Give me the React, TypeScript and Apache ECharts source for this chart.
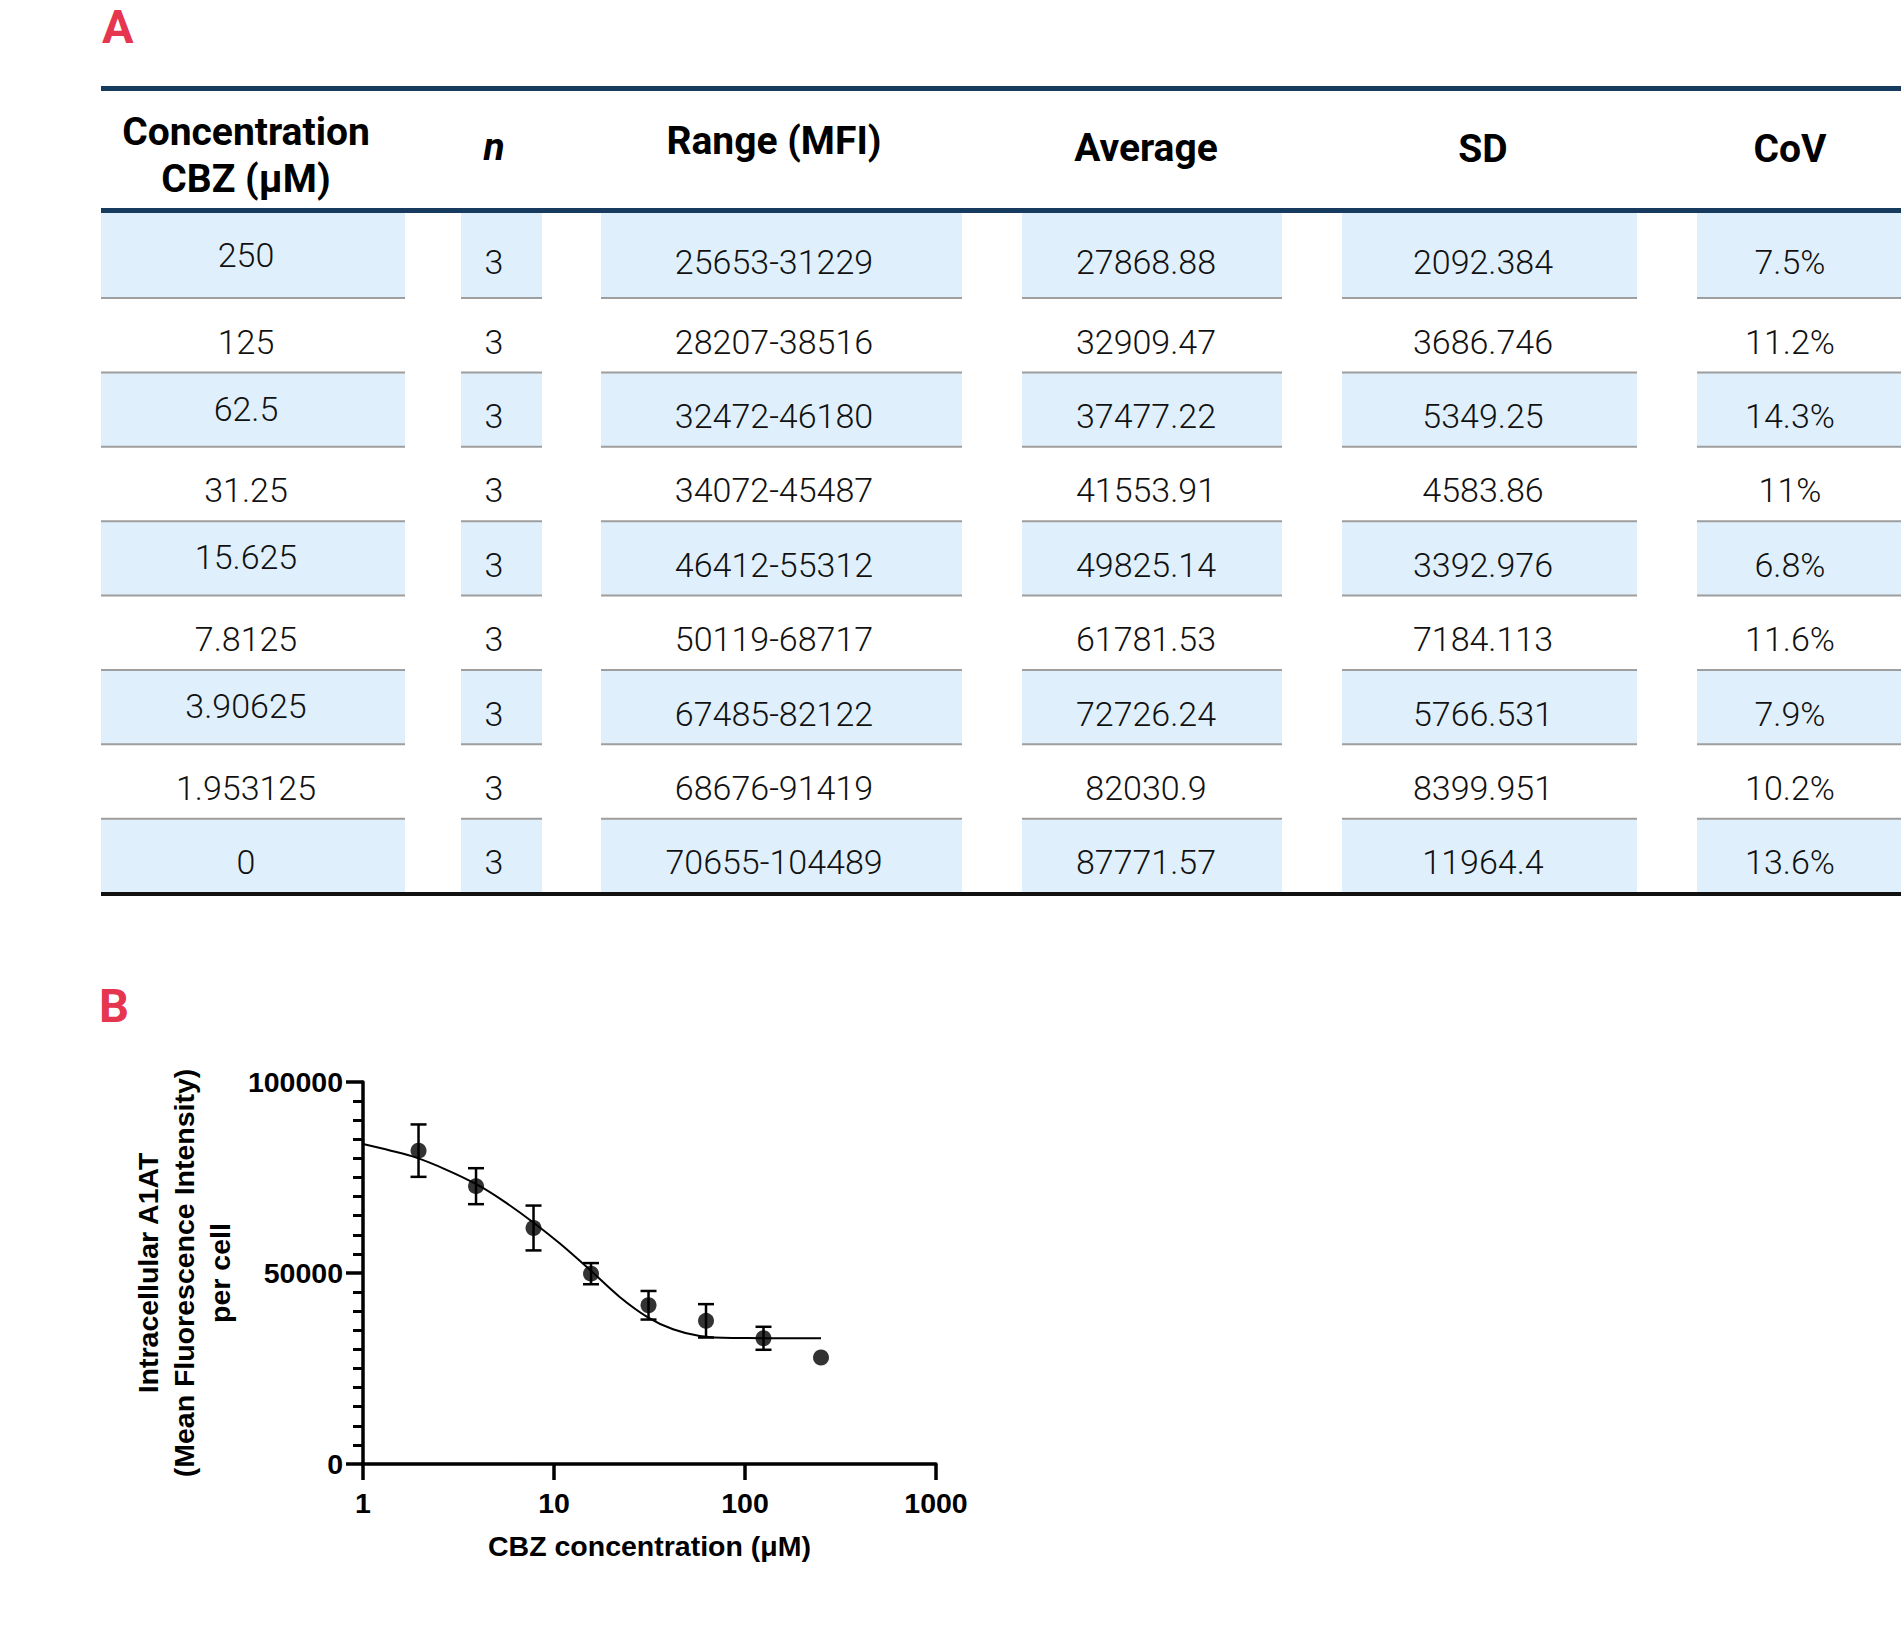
import React, { useEffect, useRef } from "react";
import * as echarts from "echarts";

// ---------- Table data (panel A) ----------
const concLabels = ["250", "125", "62.5", "31.25", "15.625", "7.8125", "3.90625", "1.953125", "0"];
const nCounts = [3, 3, 3, 3, 3, 3, 3, 3, 3];
const ranges = ["25653-31229", "28207-38516", "32472-46180", "34072-45487", "46412-55312", "50119-68717", "67485-82122", "68676-91419", "70655-104489"];
const averages = ["27868.88", "32909.47", "37477.22", "41553.91", "49825.14", "61781.53", "72726.24", "82030.9", "87771.57"];
const sds = ["2092.384", "3686.746", "5349.25", "4583.86", "3392.976", "7184.113", "5766.531", "8399.951", "11964.4"];
const covs = ["7.5%", "11.2%", "14.3%", "11%", "6.8%", "11.6%", "7.9%", "10.2%", "13.6%"];
const headerLines = [["Concentration", "CBZ (μM)"], ["n"], ["Range (MFI)"], ["Average"], ["SD"], ["CoV"]];

// ---------- Plot data (panel B) ----------
const plotConc = [1.953125, 3.90625, 7.8125, 15.625, 31.25, 62.5, 125, 250];
const plotMean = [82030.9, 72726.24, 61781.53, 49825.14, 41553.91, 37477.22, 32909.47, 27868.88];
const plotErr = [6860, 4710, 5870, 2770, 3740, 4370, 3010, null];
const curveX = [1, 1.4, 1.9, 2.7, 3.9, 5.4, 7.7, 10.7, 15.3, 22, 31, 42, 58, 86, 124, 250];
const curveY = [83770, 82020, 80190, 77140, 73300, 68930, 63430, 57770, 50970, 43800, 38400, 35260, 33510, 32980, 32950, 32950];
const yTicks = [0, 50000, 100000];

const TABLE_FONT = "Roboto, 'Noto Sans', sans-serif";
const CHART_FONT = "'Liberation Sans', Arial, sans-serif";

function buildGraphic() {
  const els: any[] = [];
  const colX0 = [101, 461, 601, 1022, 1342, 1697];
  const colX1 = [405, 542, 962, 1282, 1637, 1901];
  const textCx = [246, 494, 774, 1146, 1483, 1790];
  const navy = "#163B5E";
  const rowTop = (i: number) => (i === 0 ? 213 : 298 + (i - 1) * 74.375);
  const rowBot = (i: number) => (i === 0 ? 298 : 298 + i * 74.375);
  const nRows = concLabels.length;

  for (let i = 0; i < nRows; i++) {
    if (i % 2 !== 0) continue;
    for (let c = 0; c < colX0.length; c++) {
      els.push({
        type: "rect",
        silent: true,
        shape: { x: colX0[c], y: rowTop(i), width: colX1[c] - colX0[c], height: rowBot(i) - rowTop(i) },
        style: { fill: "#DFF0FC" },
      });
    }
  }
  for (let i = 0; i < nRows - 1; i++) {
    const y = rowBot(i);
    for (let c = 0; c < colX0.length; c++) {
      els.push({
        type: "rect",
        silent: true,
        shape: { x: colX0[c], y: y - 1, width: colX1[c] - colX0[c], height: 2 },
        style: { fill: "#9E9E9E" },
      });
    }
  }
  els.push({ type: "rect", silent: true, shape: { x: 101, y: 86, width: 1800, height: 5 }, style: { fill: navy } });
  els.push({ type: "rect", silent: true, shape: { x: 101, y: 208, width: 1800, height: 5 }, style: { fill: navy } });
  els.push({ type: "rect", silent: true, shape: { x: 101, y: 892, width: 1800, height: 4 }, style: { fill: "#111111" } });

  const headerY = [[132, 179], [147], [141], [148], [149], [149]];
  headerLines.forEach((lines, c) => {
    lines.forEach((t, k) => {
      els.push({
        type: "text",
        silent: true,
        x: textCx[c],
        y: headerY[c][k],
        style: {
          text: t,
          fill: "#000",
          fontFamily: TABLE_FONT,
          fontSize: 39,
          fontWeight: "bold",
          fontStyle: c === 1 ? "italic" : "normal",
          align: "center",
          verticalAlign: "middle",
          textAlign: "center",
          textVerticalAlign: "middle",
        },
      });
    });
  });

  for (let i = 0; i < nRows; i++) {
    const cells = [concLabels[i], String(nCounts[i]), ranges[i], averages[i], sds[i], covs[i]];
    const mid = (rowTop(i) + rowBot(i)) / 2;
    cells.forEach((t, c) => {
      const y = c === 0 && i % 2 === 0 && i < nRows - 1 ? mid - 1 : mid + 6.5;
      els.push({
        type: "text",
        silent: true,
        x: textCx[c],
        y,
        style: {
          text: t,
          fill: "#111",
          fontFamily: TABLE_FONT,
          fontSize: 34,
          fontWeight: 300,
          align: "center",
          verticalAlign: "middle",
          textAlign: "center",
          textVerticalAlign: "middle",
        },
      });
    });
  }

  const letter = (t: string, x: number, y: number) => ({
    type: "text",
    silent: true,
    x,
    y,
    style: {
      text: t,
      fill: "#E5354F",
      fontFamily: TABLE_FONT,
      fontSize: 47,
      fontWeight: "bold",
      align: "left",
      verticalAlign: "middle",
      textAlign: "left",
      textVerticalAlign: "middle",
    },
  });
  els.push(letter("A", 102, 26));
  els.push(letter("B", 99, 1005));
  return els;
}

export default function App() {
  const ref = useRef<HTMLDivElement>(null);
  useEffect(() => {
    if (!ref.current) return;
    const chart = echarts.init(ref.current, undefined, { renderer: "svg" });
    const axisText = { color: "#000", fontFamily: CHART_FONT, fontWeight: "bold", fontSize: 28.5 };
    const option: any = {
      animation: false,
      backgroundColor: "#fff",
      grid: { left: 363, top: 1082, width: 573, height: 382, containLabel: false },
      xAxis: {
        type: "log",
        logBase: 10,
        min: 1,
        max: 1000,
        axisLine: { show: true, onZero: false, lineStyle: { color: "#000", width: 3.5 } },
        axisTick: { show: true, length: 16, lineStyle: { color: "#000", width: 3.5 } },
        minorTick: { show: false },
        splitLine: { show: false },
        minorSplitLine: { show: false },
        axisLabel: { ...axisText, margin: 24, formatter: (v: number) => String(Math.round(v)) },
        name: "CBZ concentration (μM)",
        nameLocation: "middle",
        nameGap: 67,
        nameTextStyle: { ...axisText },
      },
      yAxis: {
        type: "value",
        min: yTicks[0],
        max: yTicks[yTicks.length - 1],
        interval: yTicks[1] - yTicks[0],
        axisLine: { show: true, onZero: false, lineStyle: { color: "#000", width: 3.5 } },
        axisTick: { show: true, length: 17, lineStyle: { color: "#000", width: 3.5 } },
        minorTick: { show: true, splitNumber: 10, length: 10, lineStyle: { color: "#000", width: 3 } },
        splitLine: { show: false },
        minorSplitLine: { show: false },
        axisLabel: { ...axisText, margin: 20, formatter: (v: number) => String(Math.round(v)) },
        name: "Intracellular A1AT\n(Mean Fluorescence Intensity)\nper cell",
        nameLocation: "middle",
        nameRotate: 90,
        nameGap: 125,
        nameTextStyle: { ...axisText, lineHeight: 36, align: "center" },
      },
      series: [
        {
          type: "line",
          data: curveX.map((x, i) => [x, curveY[i]]),
          showSymbol: false,
          smooth: 0.35,
          silent: true,
          lineStyle: { color: "#000", width: 2 },
          z: 2,
        },
        {
          type: "custom",
          silent: true,
          data: plotConc.map((c, i) => [c, plotMean[i], plotErr[i] == null ? 0 : plotErr[i]]),
          encode: { x: 0, y: 1 },
          renderItem: (params: any, api: any) => {
            const x = api.value(0);
            const m = api.value(1);
            const e = api.value(2);
            if (!(e > 0)) return;
            const top = api.coord([x, m + e]);
            const bot = api.coord([x, m - e]);
            const hw = 8;
            const st = { stroke: "#000", lineWidth: 2.5 };
            return {
              type: "group",
              children: [
                { type: "line", shape: { x1: top[0], y1: top[1], x2: bot[0], y2: bot[1] }, style: st },
                { type: "line", shape: { x1: top[0] - hw, y1: top[1], x2: top[0] + hw, y2: top[1] }, style: st },
                { type: "line", shape: { x1: bot[0] - hw, y1: bot[1], x2: bot[0] + hw, y2: bot[1] }, style: st },
              ],
            };
          },
          z: 3,
        },
        {
          type: "scatter",
          silent: true,
          data: plotConc.map((c, i) => [c, plotMean[i]]),
          symbol: "circle",
          symbolSize: 16,
          itemStyle: { color: "#000" },
          z: 4,
        },
      ],
      graphic: buildGraphic(),
    };
    chart.setOption(option);
    return () => chart.dispose();
  }, []);
  return (
    <div
      ref={ref}
      style={{ position: "fixed", left: 0, top: 0, width: 1901, height: 1627, background: "#fff" }}
    />
  );
}
